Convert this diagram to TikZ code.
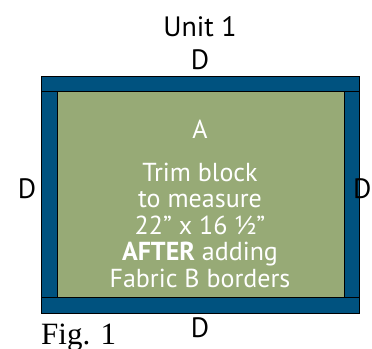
\documentclass[tikz,border=0pt]{standalone}
\usepackage{fontspec}
\setmainfont{PT Sans}
\newfontfamily\figfont{Liberation Serif}
\definecolor{borderblue}{HTML}{00527F}
\definecolor{blockgreen}{HTML}{97AA76}
\begin{document}
\begin{tikzpicture}[x=1pt,y=1pt]
    \useasboundingbox (0,0) rectangle (372,348);
    \tikzset{
        strip/.style={draw=black, fill=borderblue, line width=0.6pt},
        lbl/.style={font=\fontsize{28}{28}\selectfont, inner sep=0pt},
        blocktext/.style={font=\fontsize{26}{26.5}\selectfont, text=white, align=center, inner sep=0pt}
    }

    % Block
    \draw[strip] (41,35) rectangle (359,272);
    \fill[blockgreen] (57,51) rectangle (344,257);
    \draw[strip] (41,257) rectangle (359,272);
    \draw[strip] (41,35) rectangle (359,51);
    \draw[strip] (41,51) rectangle (57,257);
    \draw[strip] (344,51) rectangle (359,257);

    % Labels
    \node[lbl] (unit) at (200,321) {Unit 1};
    \node[lbl] (dtop) at (200,288) {D};
    \node[lbl] (dleft) at (27,159) {D};
    \node[lbl, anchor=west] (dright) at (353,159) {D};
    \node[lbl] (dbottom) at (200,20) {D};

    % Block text
    \node[blocktext] (a) at (200,219) {A};
    \node[blocktext] (trim) at (200,123) {Trim block\\to measure\\22\textquotedblright\ x 16 \textonehalf\textquotedblright\\\textbf{AFTER} adding\\Fabric B borders};

    % Caption
    \node[font=\figfont\fontsize{31}{31}\selectfont, anchor=base west, inner sep=0pt] (fig) at (41,4) {Fig. 1};
\end{tikzpicture}
\end{document}
